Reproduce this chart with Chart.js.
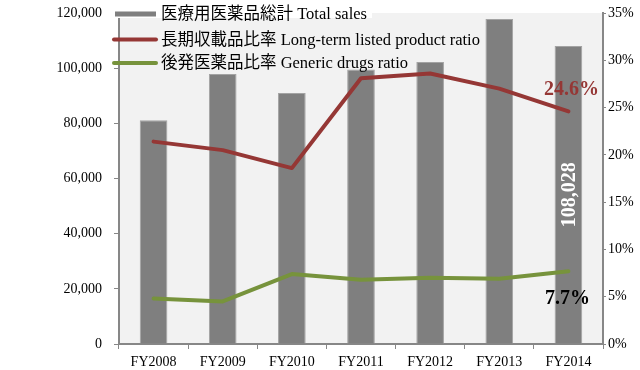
<!DOCTYPE html>
<html>
<head>
<meta charset="utf-8">
<script src="https://cdn.jsdelivr.net/npm/chart.js@4/dist/chart.umd.min.js"></script>
<style>
  html, body { margin: 0; padding: 0; background: #ffffff; }
  #wrap { width: 640px; height: 370px; position: relative; }
</style>
</head>
<body>
<div id="wrap"><canvas id="chart" width="640" height="370"></canvas></div>
<script>
// Fiscal years on the category axis
const years = ['FY2008', 'FY2009', 'FY2010', 'FY2011', 'FY2012', 'FY2013', 'FY2014'];
// Total sales of prescription drugs (left axis)
const totalSales = [81100, 97900, 91000, 99500, 102200, 117800, 108028];
// Share of long-term listed products, % (right axis)
const longTermRatio = [21.4, 20.5, 18.6, 28.1, 28.6, 27.0, 24.6];
// Share of generic drugs, % (right axis)
const genericRatio = [4.8, 4.5, 7.4, 6.8, 7.0, 6.9, 7.7];

// Series names
const seriesNames = [
  '医療用医薬品総計 Total sales',
  '長期収載品比率 Long-term listed product ratio',
  '後発医薬品比率 Generic drugs ratio'
];

const BAR = '#7f7f7f';
const RED = '#953735';
const GREEN = '#77933c';
const AXIS = '#878787';
const SERIF = '"Liberation Serif", "Noto Sans CJK JP", serif';

// Light grey plot background
const plotBackground = {
  id: 'plotBackground',
  beforeDraw(chart) {
    const { ctx, chartArea: a } = chart;
    ctx.save();
    ctx.fillStyle = '#f2f2f2';
    ctx.fillRect(a.left, a.top, a.right - a.left, a.bottom - a.top);
    ctx.restore();
  }
};

// Value labels on the last year
const endLabels = {
  id: 'endLabels',
  afterDatasetsDraw(chart) {
    const { ctx } = chart;
    const last = years.length - 1;
    const bar = chart.getDatasetMeta(0).data[last];
    const red = chart.getDatasetMeta(1).data[last];
    const green = chart.getDatasetMeta(2).data[last];
    ctx.save();
    ctx.textAlign = 'center';
    ctx.textBaseline = 'middle';

    ctx.font = 'bold 20px ' + SERIF;
    ctx.fillStyle = RED;
    ctx.fillText(longTermRatio[last].toFixed(1) + '%', red.x + 3, red.y - 22);

    ctx.fillStyle = '#000000';
    ctx.fillText(genericRatio[last].toFixed(1) + '%', green.x - 1, green.y + 28);

    ctx.translate(bar.x + 1, (bar.y + bar.base) / 2);
    ctx.rotate(-Math.PI / 2);
    ctx.font = 'bold 20px ' + SERIF;
    ctx.fillStyle = '#ffffff';
    ctx.fillText(totalSales[last].toLocaleString('en-US'), 0, 0);
    ctx.restore();
  }
};

// Legend drawn over the top-left of the plot
const overlayLegend = {
  id: 'overlayLegend',
  afterDraw(chart) {
    const { ctx } = chart;
    const x0 = 114, x1 = 156, tx = 161;
    const rows = [14, 39.5, 63];
    ctx.save();
    // white backing behind the first entry
    ctx.fillStyle = '#ffffff';
    ctx.fillRect(110, 0, 262, 18);
    // bar swatch
    ctx.fillStyle = BAR;
    ctx.fillRect(x0 + 1, rows[0] - 2.5, x1 - x0 - 1, 5);
    // line swatches
    ctx.lineWidth = 4;
    ctx.lineCap = 'round';
    ctx.strokeStyle = RED;
    ctx.beginPath(); ctx.moveTo(x0, rows[1]); ctx.lineTo(x1, rows[1]); ctx.stroke();
    ctx.strokeStyle = GREEN;
    ctx.beginPath(); ctx.moveTo(x0, rows[2]); ctx.lineTo(x1, rows[2]); ctx.stroke();
    // names
    ctx.font = '16.5px ' + SERIF;
    ctx.fillStyle = '#000000';
    ctx.textAlign = 'left';
    ctx.textBaseline = 'middle';
    seriesNames.forEach((name, i) => ctx.fillText(name, tx, rows[i] + 1));
    ctx.restore();
  }
};

// Fixed axis sizes so the plot area sits at a known place
function fixVertical(width) {
  return scale => {
    scale.width = width;
    scale.paddingTop = 0;
    scale.paddingBottom = 0;
  };
}

new Chart(document.getElementById('chart'), {
  data: {
    labels: years,
    datasets: [
      {
        type: 'bar',
        label: seriesNames[0],
        data: totalSales,
        yAxisID: 'y',
        backgroundColor: BAR,
        borderColor: '#a3a3a3',
        borderWidth: 1,
        barPercentage: 0.4,
        categoryPercentage: 1.0,
        order: 2
      },
      {
        type: 'line',
        label: seriesNames[1],
        data: longTermRatio,
        yAxisID: 'y2',
        borderColor: RED,
        borderWidth: 4,
        borderCapStyle: 'round',
        borderJoinStyle: 'round',
        pointRadius: 0,
        tension: 0,
        order: 1
      },
      {
        type: 'line',
        label: seriesNames[2],
        data: genericRatio,
        yAxisID: 'y2',
        borderColor: GREEN,
        borderWidth: 4,
        borderCapStyle: 'round',
        borderJoinStyle: 'round',
        pointRadius: 0,
        tension: 0,
        order: 1
      }
    ]
  },
  options: {
    responsive: false,
    animation: false,
    devicePixelRatio: 1,
    layout: { padding: { top: 13, left: 0, right: 0, bottom: 0 } },
    plugins: {
      legend: { display: false },
      tooltip: { enabled: false }
    },
    scales: {
      x: {
        type: 'category',
        offset: true,
        border: { color: AXIS, width: 2 },
        grid: { offset: true, drawOnChartArea: false, tickLength: 5, color: AXIS, lineWidth: 1 },
        ticks: { color: '#000000', font: { family: SERIF, size: 14 }, padding: 5, maxRotation: 0 },
        afterFit(scale) {
          scale.height = 26;
          scale.paddingLeft = 0;
          scale.paddingRight = 0;
        }
      },
      y: {
        position: 'left',
        min: 0,
        max: 120000,
        border: { color: AXIS, width: 2 },
        grid: { drawOnChartArea: false, tickLength: 5, color: AXIS, lineWidth: 1 },
        ticks: {
          stepSize: 20000,
          color: '#000000',
          font: { family: SERIF, size: 14 },
          padding: 12,
          callback: v => v.toLocaleString('en-US')
        },
        afterFit: fixVertical(119)
      },
      y2: {
        position: 'right',
        min: 0,
        max: 35,
        border: { color: AXIS, width: 2 },
        grid: { drawOnChartArea: false, tickLength: 3, color: AXIS, lineWidth: 1 },
        ticks: {
          stepSize: 5,
          color: '#000000',
          font: { family: SERIF, size: 14 },
          padding: 2,
          callback: v => v + '%'
        },
        afterFit: fixVertical(37)
      }
    }
  },
  plugins: [plotBackground, endLabels, overlayLegend]
});
</script>
</body>
</html>
